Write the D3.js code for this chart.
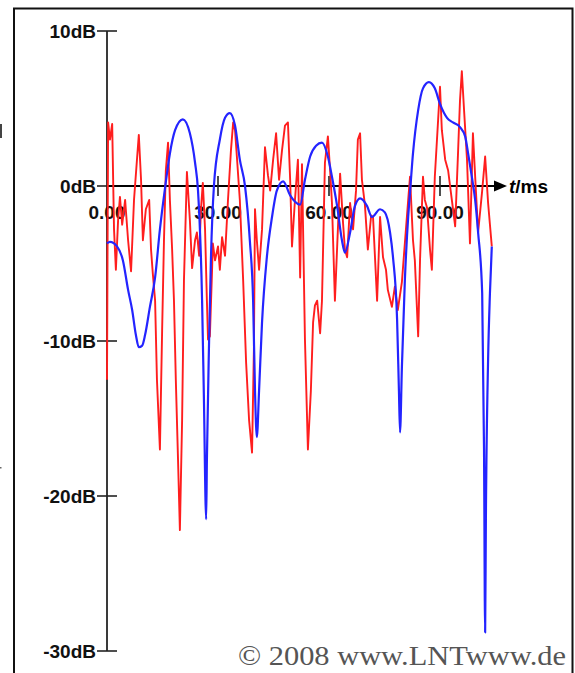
<!DOCTYPE html>
<html><head><meta charset="utf-8">
<script src="https://cdn.jsdelivr.net/npm/d3@7/dist/d3.min.js"></script>
<style>html,body{margin:0;padding:0;background:#fff;}svg{display:block;}</style>
</head><body>
<script>
// ---- data ----
const yTicks = [10, 0, -10, -20, -30];
const yTickLabels = ["10dB", "0dB", "-10dB", "-20dB", "-30dB"];
const xTicks = [0, 30, 60, 90];
const xTickLabels = ["0.00", "30.00", "60.00", "90.00"];
const xAxisLabel = "t/ms";
const copyright = "© 2008 www.LNTwww.de";

// blue (smooth) curve: time in ms, level in dB
const blueT = [0,0.8,2.7,4.3,5.7,6.8,7.8,8.6,9.5,10.3,11.6,13.0,14.3,15.7,17.0,18.4,20.5,22.4,23.8,24.6,25.7,26.2,26.8,27.0,27.6,28.1,28.9,30.5,31.9,33.2,34.6,35.9,37.3,38.6,39.5,40.0,40.5,41.1,41.9,43.2,44.6,45.9,47.6,49.5,52.2,53.5,54.9,56.5,58.1,59.7,60.8,62.2,63.5,64.3,65.7,67.0,68.4,70.3,71.6,73.8,75.1,76.5,77.3,78.4,78.9,79.2,79.7,80.5,81.4,81.9,82.7,84.1,85.4,87.0,88.6,90.0,91.9,93.5,95.4,96.8,97.6,98.6,99.5,100.3,101.4,101.9,102.2,102.4,103.0,103.5,104.0];
const blueDB = [-3.7,-3.6,-3.9,-4.8,-6.7,-8.0,-9.6,-10.4,-10.3,-9.6,-7.8,-5.9,-2.8,-0.1,2.1,3.6,4.3,3.4,1.5,-0.3,-7.4,-13.8,-21.5,-17.7,-9.9,-4.6,0.0,3.0,4.4,4.7,3.9,1.7,0.0,-3.5,-7.5,-13.2,-16.2,-13.2,-8.8,-4.6,-2.0,-0.3,0.3,-0.6,-1.2,0.4,1.9,2.6,2.8,1.9,0.6,-1.3,-3.5,-4.3,-3.0,-1.3,-0.8,-1.3,-2.0,-1.5,-1.7,-3.0,-4.6,-8.6,-13.2,-15.9,-11.7,-6.1,-2.0,-0.4,2.1,4.9,6.3,6.7,6.3,5.3,4.4,4.1,3.8,3.2,2.1,0.6,-0.9,-3.0,-6.9,-17.0,-28.8,-21.5,-11.2,-6.9,-3.9];

// red (fluctuating) curve
const redT = [0,0.3,0.8,1.4,1.9,2.4,3.0,3.5,4.1,4.9,5.7,6.5,7.3,8.1,8.6,9.2,9.7,10.5,11.4,11.9,12.4,13.0,13.5,14.3,14.9,15.4,15.9,16.5,17.0,17.6,18.1,18.6,19.2,19.7,20.3,20.8,21.6,22.4,23.0,23.8,24.3,24.9,25.4,25.9,26.5,27.0,27.3,27.8,28.4,28.6,29.2,30.0,30.5,31.1,31.9,32.7,33.5,34.1,34.6,35.1,35.9,36.8,37.6,38.4,39.2,39.7,40.0,40.5,41.1,41.9,42.7,43.5,44.1,44.9,45.7,46.5,47.3,48.1,48.9,49.5,50.0,50.8,51.6,52.2,52.7,53.5,54.3,55.1,55.7,56.2,56.8,57.6,58.1,58.9,59.7,60.3,60.8,61.6,62.4,63.0,63.8,64.3,64.9,65.7,66.5,67.3,67.8,68.4,68.9,69.7,70.5,71.4,71.9,73.0,73.8,74.6,75.4,75.9,77.0,77.8,78.6,79.7,80.5,81.4,81.9,82.7,83.2,84.1,84.6,85.4,85.9,86.5,87.3,87.8,88.6,89.5,90.0,90.5,91.4,92.2,93.2,94.1,94.9,95.4,95.9,96.5,97.3,98.1,98.9,99.7,100.3,101.4,102.2,103.0,103.5,104.0];
const redDB = [-12.5,4.1,3.0,4.0,-2.8,-5.4,-2.2,-0.7,-2.5,-0.9,-3.5,-5.5,-0.9,1.7,3.3,0.4,-3.5,-1.5,-0.9,-4.1,-5.7,-7.4,-12.5,-17.0,-9.3,-3.5,1.0,2.8,-0.9,-4.1,-7.4,-12.5,-17.7,-22.2,-15.1,-6.1,0.9,-2.2,-5.3,-3.5,-3.0,-4.5,-1.5,0.2,-2.8,-7.4,-9.9,-9.7,-5.4,-3.7,-4.8,-3.9,-5.4,-3.3,-4.5,-0.9,2.3,4.1,3.6,1.9,-0.9,-6.1,-11.4,-15.1,-17.2,-10.6,-1.5,-3.5,-5.4,-2.8,2.5,0.7,-0.3,1.7,3.4,0.4,2.3,3.9,4.1,0.4,-3.9,-0.9,1.7,-5.9,1.4,-9.9,-17.0,-13.2,-8.8,-7.7,-7.4,-9.5,-7.4,1.5,3.2,1.0,-1.1,-7.4,-2.8,0.8,-2.4,-4.1,-4.6,-1.1,-2.8,-0.3,3.0,3.4,0.4,-1.2,-4.1,-1.9,-2.0,-7.4,-2.0,-4.6,-5.4,-6.7,-7.8,-6.5,-8.0,-6.2,-3.7,-0.9,0.6,-3.5,-4.8,-9.7,-4.8,0.6,-0.9,-1.4,-4.1,-5.4,0.6,4.3,6.4,3.6,1.7,1.0,-0.9,-2.6,2.3,5.5,7.4,4.9,1.7,-3.7,3.4,-0.3,-3.0,-0.3,1.9,-1.1,-2.5,-3.9];

// ---- drawing ----
const W = 575, H = 673;
const svg = d3.select("body").append("svg").attr("width", W).attr("height", H);

const x = d3.scaleLinear().domain([0, 90]).range([107, 440]);
const y = d3.scaleLinear().domain([-30, 10]).range([651, 31]);

// frame
svg.append("path").attr("d", `M14,${H+5} V8.5 H572.5 V${H+5}`)
  .attr("fill", "none").attr("stroke", "#111").attr("stroke-width", 2);

// fragments of neighbouring content at the left edge (decorative marks)
svg.append("rect").attr("x", 0).attr("y", 124).attr("width", 2).attr("height", 14).attr("fill", "#444");
svg.append("rect").attr("x", 0).attr("y", 467).attr("width", 1.5).attr("height", 1.5).attr("fill", "#666");

const axisFont = "Liberation Sans, Arial, sans-serif";

// y axis
svg.append("line").attr("x1", x(0)).attr("x2", x(0)).attr("y1", y(10)).attr("y2", y(-30))
  .attr("stroke", "#3a3a3a").attr("stroke-width", 2);
const yg = svg.append("g");
yg.selectAll("line").data(yTicks).join("line")
  .attr("x1", x(0) - 10).attr("x2", x(0) + 10)
  .attr("y1", d => y(d)).attr("y2", d => y(d))
  .attr("stroke", "#222").attr("stroke-width", 1.6);
yg.selectAll("text").data(yTicks).join("text")
  .attr("x", 96).attr("y", d => y(d) + 7)
  .attr("text-anchor", "end").attr("font-family", axisFont).attr("font-weight", "bold")
  .attr("font-size", 19).attr("fill", "#111")
  .text((d, i) => yTickLabels[i]);

// x axis with arrow
svg.append("line").attr("x1", x(0)).attr("x2", 497).attr("y1", y(0)).attr("y2", y(0))
  .attr("stroke", "#000").attr("stroke-width", 2.2);
svg.append("path").attr("d", `M494,${y(0)-5.5} L507,${y(0)} L494,${y(0)+5.5} Z`).attr("fill", "#000");
const xg = svg.append("g");
xg.selectAll("line").data(xTicks.slice(1)).join("line")
  .attr("x1", d => x(d)).attr("x2", d => x(d))
  .attr("y1", y(0) - 10).attr("y2", y(0) + 10)
  .attr("stroke", "#222").attr("stroke-width", 1.6);
xg.selectAll("text").data(xTicks).join("text")
  .attr("x", d => x(d)).attr("y", 219)
  .attr("text-anchor", "middle").attr("font-family", axisFont).attr("font-weight", "bold")
  .attr("font-size", 19).attr("fill", "#111")
  .text((d, i) => xTickLabels[i]);

const lab = svg.append("text").attr("x", 509).attr("y", y(0) + 7)
  .attr("font-family", axisFont).attr("font-weight", "bold").attr("font-size", 19).attr("fill", "#000");
lab.append("tspan").attr("font-style", "italic").text(xAxisLabel.split("/")[0]);
lab.append("tspan").text("/" + xAxisLabel.split("/")[1]);

// curves
const redData = redT.map((t, i) => [t, redDB[i]]);
const blueData = blueT.map((t, i) => [t, blueDB[i]]);
svg.append("path").datum(redData)
  .attr("d", d3.line().x(d => x(d[0])).y(d => y(d[1])))
  .attr("fill", "none").attr("stroke", "#ff1e1e").attr("stroke-width", 1.9)
  .attr("stroke-linejoin", "round");
svg.append("path").datum(blueData)
  .attr("d", d3.line().x(d => x(d[0])).y(d => y(d[1])).curve(d3.curveMonotoneX))
  .attr("fill", "none").attr("stroke", "#2424ff").attr("stroke-width", 2.2)
  .attr("stroke-linejoin", "round");

// copyright
svg.append("text").attr("x", 238).attr("y", 665)
  .attr("font-family", "Liberation Serif, Times New Roman, serif").attr("font-size", 28)
  .attr("textLength", 328).attr("lengthAdjust", "spacingAndGlyphs")
  .attr("fill", "#555").text(copyright);
</script>
</body></html>
